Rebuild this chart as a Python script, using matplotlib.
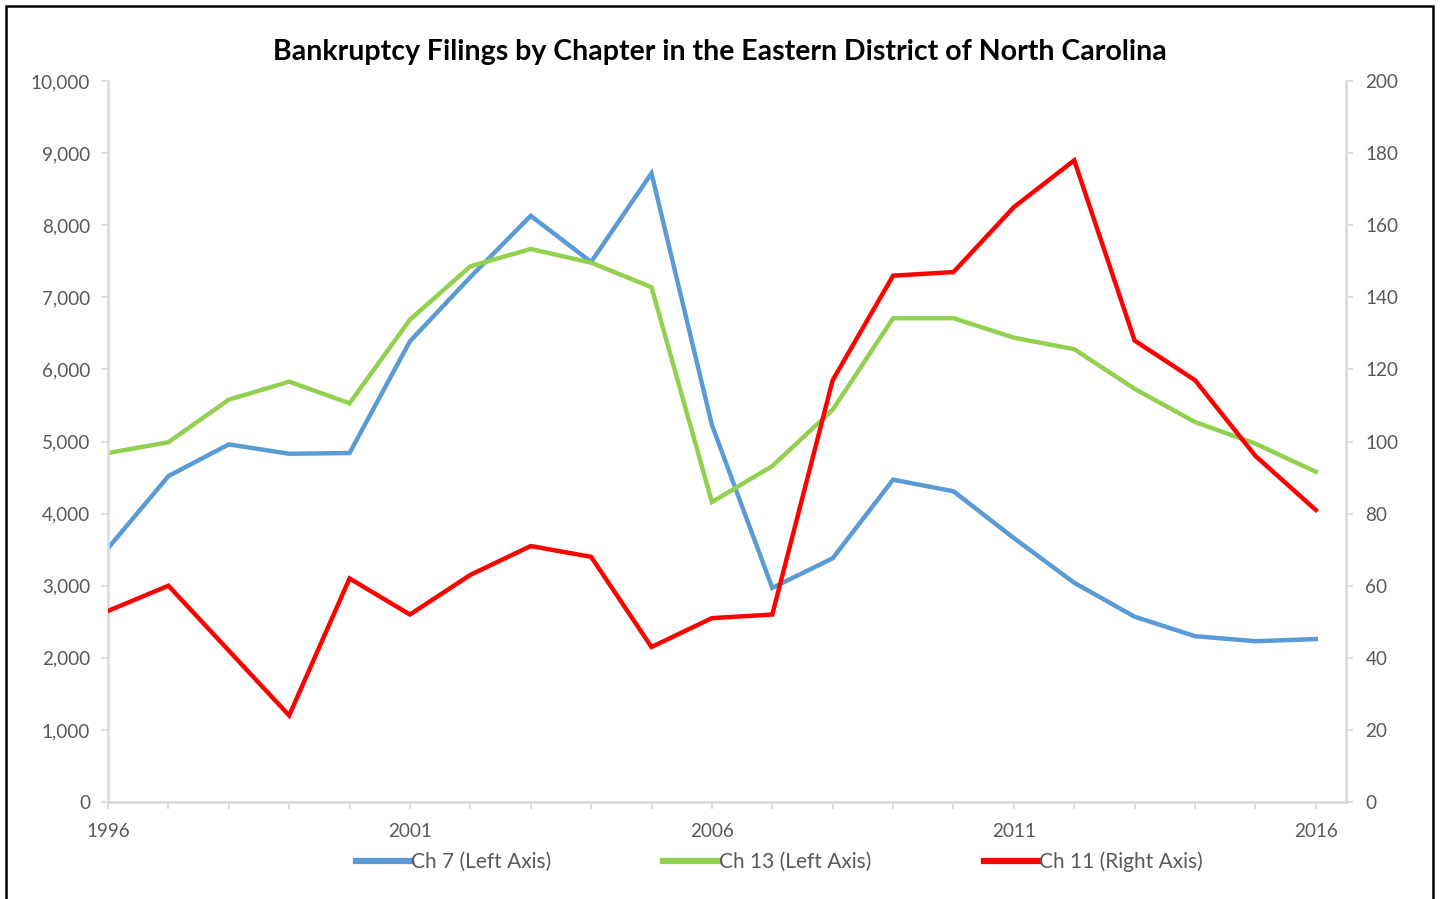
import matplotlib
matplotlib.use("Agg")
import matplotlib.pyplot as plt
from matplotlib.patches import Rectangle
from matplotlib.ticker import FuncFormatter, MultipleLocator

years = list(range(1996, 2017))
ch7 = [3520, 4520, 4960, 4830, 4840, 6390, 7280, 8130, 7490, 8720, 5230,
       2970, 3380, 4470, 4310, 3660, 3040, 2570, 2300, 2230, 2260]
ch13 = [4840, 4990, 5580, 5830, 5530, 6690, 7430, 7670, 7480, 7140, 4160,
        4660, 5440, 6710, 6710, 6440, 6280, 5730, 5270, 4970, 4580]
ch11 = [53, 60, 42, 24, 62, 52, 63, 71, 68, 43, 51,
        52, 117, 146, 147, 165, 178, 128, 117, 96, 81]
labels = ["Ch 7 (Left Axis)", "Ch 13 (Left Axis)", "Ch 11 (Right Axis)"]
colors = ["#5B9BD5", "#92D050", "#FF0000"]
title = "Bankruptcy Filings by Chapter in the Eastern District of North Carolina"

plt.rcParams['font.family'] = ['Lato', 'DejaVu Sans']
txt = "#595959"
grid = "#D9D9D9"

fig = plt.figure(figsize=(14.4, 8.99), dpi=100)
ax = fig.add_axes([108/1440, 1-802/899, (1346-108)/1440, (802-81)/899])
ax2 = ax.twinx()

l1, = ax.plot(years, ch7, color=colors[0], lw=3.2, solid_joinstyle='miter', label=labels[0])
l2, = ax.plot(years, ch13, color=colors[1], lw=3.2, solid_joinstyle='miter', label=labels[1])
l3, = ax2.plot(years, ch11, color=colors[2], lw=3.2, solid_joinstyle='miter', label=labels[2])

ax.set_xlim(1996, 2016.5)
ax.set_ylim(0, 10000)
ax2.set_ylim(0, 200)
ax.yaxis.set_major_locator(MultipleLocator(1000))
ax2.yaxis.set_major_locator(MultipleLocator(20))
ax.yaxis.set_major_formatter(FuncFormatter(lambda v, p: f"{int(v):,}"))
ax.set_xticks(years)
ax.set_xticklabels([str(y) if (y - 1996) % 5 == 0 else "" for y in years])

for a in (ax, ax2):
    for s in a.spines.values():
        s.set_visible(False)
    a.tick_params(colors=grid, labelcolor=txt, labelsize=13.6, length=5, width=1.2)
ax.spines['left'].set_visible(True)
ax.spines['bottom'].set_visible(True)
ax2.spines['right'].set_visible(True)
for s in (ax.spines['left'], ax.spines['bottom'], ax2.spines['right']):
    s.set_color(grid)
    s.set_linewidth(1.8)
ax.tick_params(axis='y', pad=8)
ax2.tick_params(axis='y', pad=9)
ax.tick_params(axis='x', pad=10)

fig.text(0.5, 1-52/899, title, ha='center', va='center', fontsize=20.5,
         fontweight='bold', color='black')

leg = fig.legend(handles=[l1, l2, l3], loc='center', bbox_to_anchor=(0.541, 1-862/899),
                 ncol=3, frameon=False, fontsize=15, handlelength=2.6,
                 handletextpad=0.05, columnspacing=5.4)
for t in leg.get_texts():
    t.set_color(txt)
for h in leg.legend_handles:
    h.set_linewidth(4.5)

fig.add_artist(Rectangle((6/1440, -0.01), (1433-6)/1440, 1-6/899+0.01,
                         transform=fig.transFigure, fill=False, edgecolor='black',
                         linewidth=1.8))

fig.savefig("out.png", dpi=100)
